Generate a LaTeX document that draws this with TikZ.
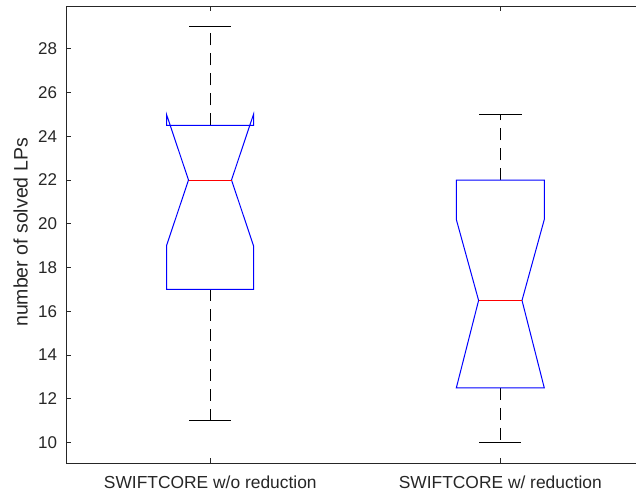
\documentclass[tikz,border=0pt]{standalone}
\usepackage{fontspec}
\setmainfont{Liberation Sans}
\definecolor{axgray}{RGB}{38,38,38}
\definecolor{boxblue}{RGB}{0,0,255}
\definecolor{medred}{RGB}{255,0,0}
\begin{document}
\begin{tikzpicture}[x=1pt,y=-1pt,
  axisline/.style={draw=axgray, line width=1pt},
  tickmark/.style={draw=axgray, line width=0.9pt},
  ticklabel/.style={text=axgray, font=\fontsize{17}{20}\selectfont, anchor=east, inner sep=0pt},
  catlabel/.style={text=axgray, font=\fontsize{17.4}{20}\selectfont, anchor=base, inner sep=0pt},
  ylabelstyle/.style={text=axgray, font=\fontsize{19.5}{22}\selectfont, rotate=90, anchor=base, inner sep=0pt},
  boxline/.style={draw=boxblue, line width=1pt, line join=miter},
  medline/.style={draw=medred, line width=1pt},
  whisk/.style={draw=black, line width=1pt, dash pattern=on 12pt off 8pt},
  capline/.style={draw=black, line width=1pt},
  datascope/.style={x=1pt, y=21.89pt, yshift=-661.6pt}]
\useasboundingbox (0,0) rectangle (636,498);

% axes frame
\coordinate (tl) at (66,6);
\coordinate (bl) at (66,463);
\coordinate (br) at (636,463);
\coordinate (tr) at (636,6);
\draw[axisline] (tr) -- (tl) -- (bl) -- (br);

\begin{scope}[datascope]
  % y ticks and labels
  \foreach \v in {10,12,...,28} {
    \coordinate (ya\v) at (66,\v);
    \coordinate (yb\v) at (71,\v);
    \draw[tickmark] (ya\v) -- (yb\v);
    \node[ticklabel] (t\v) at (57.3,\v) {\v};
  }

  % ---------- box 1 : SWIFTCORE w/o reduction ----------
  \coordinate (b1q3) at (210.3,24.5);
  \coordinate (b1q1) at (210.3,17);
  \coordinate (b1hi) at (210.3,29);
  \coordinate (b1lo) at (210.3,11);
  \draw[whisk] (b1q3) -- (b1hi);
  \draw[whisk] (b1q1) -- (b1lo);
  \coordinate (b1c1) at (189,29);
  \coordinate (b1c2) at (231,29);
  \coordinate (b1c3) at (189,11);
  \coordinate (b1c4) at (231,11);
  \draw[capline] (b1c1) -- (b1c2);
  \draw[capline] (b1c3) -- (b1c4);
  \draw[boxline] (166.5,17) -- (166.5,19) -- (188.5,22) -- (166.5,25) -- (166.5,24.5)
     -- (253.5,24.5) -- (253.5,25) -- (231.5,22) -- (253.5,19) -- (253.5,17) -- cycle;
  \coordinate (b1m1) at (188.5,22);
  \coordinate (b1m2) at (231.5,22);
  \draw[medline] (b1m1) -- (b1m2);

  % ---------- box 2 : SWIFTCORE w/ reduction ----------
  \coordinate (b2q3) at (500.3,22);
  \coordinate (b2q1) at (500.3,12.5);
  \coordinate (b2hi) at (500.3,25);
  \coordinate (b2lo) at (500.3,10);
  \draw[whisk] (b2q3) -- (b2hi);
  \draw[whisk] (b2q1) -- (b2lo);
  \coordinate (b2c1) at (479,25);
  \coordinate (b2c2) at (522,25);
  \coordinate (b2c3) at (479,10);
  \coordinate (b2c4) at (521,10);
  \draw[capline] (b2c1) -- (b2c2);
  \draw[capline] (b2c3) -- (b2c4);
  \draw[boxline] (456.3,12.5) -- (478.6,16.5) -- (456.3,20.2) -- (456.3,22)
     -- (544.3,22) -- (544.3,20.2) -- (522,16.5) -- (544.3,12.5) -- cycle;
  \coordinate (b2m1) at (478.6,16.5);
  \coordinate (b2m2) at (522,16.5);
  \draw[medline] (b2m1) -- (b2m2);
\end{scope}

% x ticks (top and bottom)
\coordinate (xb1a) at (210.3,463); \coordinate (xb1b) at (210.3,458);
\coordinate (xt1a) at (210.3,6);   \coordinate (xt1b) at (210.3,11);
\coordinate (xb2a) at (500.3,463); \coordinate (xb2b) at (500.3,458);
\coordinate (xt2a) at (500.3,6);   \coordinate (xt2b) at (500.3,11);
\draw[tickmark] (xb1a) -- (xb1b);
\draw[tickmark] (xt1a) -- (xt1b);
\draw[tickmark] (xb2a) -- (xb2b);
\draw[tickmark] (xt2a) -- (xt2b);

% category labels
\node[catlabel] (cat1) at (210.3,488.5) {SWIFTCORE w/o reduction};
\node[catlabel] (cat2) at (500.3,488.5) {SWIFTCORE w/ reduction};

% y axis label
\node[ylabelstyle] (ylab) at (27.5,232.5) {number of solved LPs};
\end{tikzpicture}
\end{document}
